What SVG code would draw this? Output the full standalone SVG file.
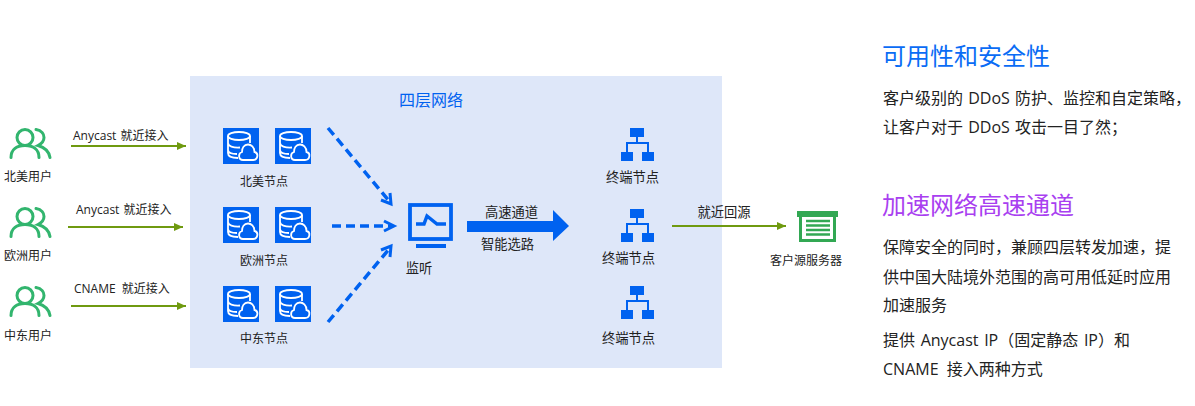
<svg xmlns="http://www.w3.org/2000/svg" width="1195" height="406" viewBox="0 0 1195 406">
<style>
text{font-family:"Open Sans","Noto Sans CJK SC",sans-serif;fill:#222}
.s{font-size:12px}
.m{font-size:13.300px}
.b{font-size:16px}
.h{font-size:24px}
.c{text-anchor:middle}
.g{stroke:#6f9a10;stroke-width:2;fill:none}
.d{stroke:#0062f0;stroke-width:3.500;stroke-dasharray:9 5;fill:none}
.o{stroke:#0062f0;stroke-width:3;fill:none}
</style>
<defs>
<marker id="ga" markerUnits="userSpaceOnUse" markerWidth="10" markerHeight="10" refX="9" refY="5" orient="auto"><path d="M0 1L9 5L0 9Z" fill="#6f9a10"/></marker>
<g id="user" fill="none" stroke="#32b56e" stroke-width="3" stroke-linecap="round">
<circle cx="16" cy="10" r="8"/>
<path d="M2 30C2 22 8 18 16 18S30 22 30 30"/>
<path d="M27 2C33 3 35 7 35 10S33 16 29 18C36 20 40 24 41 30"/>
</g>
<g id="db">
<rect width="36" height="36" fill="#0062f0"/>
<g fill="none" stroke="#fff" stroke-width="1.800">
<ellipse cx="16" cy="8" rx="11" ry="4"/>
<path d="M5 8V25C5 28 9 30 15 30M5 15C5 18 10 20 17 19.500M5 22C5 25 9 26 14 26M27 8V15"/>
<path d="M20 32H30C35 32 36 25 31.500 24C31.500 19 28 16.500 25 16.500C21 16.500 19 20 19 24C15 25 15 32 20 32Z" fill="#0062f0"/>
</g>
</g>
<g id="net" fill="#0062f0">
<rect x="9" y="0" width="14" height="9"/>
<rect x="0" y="24" width="12" height="9"/>
<rect x="21" y="24" width="12" height="9"/>
<path d="M15 9h2v5h11v10h-2v-8H7v8H5V14h10z"/>
</g>
</defs>
<rect id="panel" x="190" y="76" width="532" height="292" fill="#dee7f9"/>
<g id="connectors">
<path class="g" d="M71 146H186" marker-end="url(#ga)"/>
<path class="g" d="M68 227H183" marker-end="url(#ga)"/>
<path class="g" d="M71 306H186" marker-end="url(#ga)"/>
<path class="g" d="M672 226H786" marker-end="url(#ga)"/>
<path class="d" d="M328 128L390 202"/>
<path class="o" d="M381 200L391 204L390 193"/>
<path class="d" d="M332 226H393"/>
<path class="o" d="M384 221L394 226L384 231"/>
<path class="d" d="M328 322L390 248"/>
<path class="o" d="M381 250L391 246L390 257"/>
<path d="M467 221H553V210L569 226L553 241V232H467Z" fill="#0062f0"/>
</g>
<g id="user-na"><use href="#user" x="9" y="127.500"/><text class="s c" x="28" y="181">北美用户</text></g>
<g id="user-eu"><use href="#user" x="9" y="206.500"/><text class="s c" x="28" y="260">欧洲用户</text></g>
<g id="user-me"><use href="#user" x="9" y="285.500"/><text class="s c" x="28" y="340">中东用户</text></g>
<g id="label-1"><text class="s" x="73" y="140" word-spacing="1">Anycast 就近接入</text></g>
<g id="label-2"><text class="s" x="76" y="214" word-spacing="1">Anycast 就近接入</text></g>
<g id="label-3"><text class="s" x="74" y="293" word-spacing="3">CNAME 就近接入</text></g>
<text x="399" y="106" style="fill:#0062f0;font-size:16px">四层网络</text>
<g id="node-na"><use href="#db" x="223" y="128"/><use href="#db" x="275" y="128"/><text class="s c" x="264" y="186">北美节点</text></g>
<g id="node-eu"><use href="#db" x="223" y="207"/><use href="#db" x="275" y="207"/><text class="s c" x="264" y="265">欧洲节点</text></g>
<g id="node-me"><use href="#db" x="223" y="286"/><use href="#db" x="275" y="286"/><text class="s c" x="264" y="343">中东节点</text></g>
<g id="monitor">
<rect x="410" y="205" width="41" height="34" fill="none" stroke="#0062f0" stroke-width="3.800"/>
<path d="M416 224H424L427 216L437 224H446" fill="none" stroke="#0062f0" stroke-width="3.500"/>
<rect x="416" y="244" width="30" height="4" fill="#0062f0"/>
<text class="m c" x="419" y="273">监听</text>
</g>
<text class="m c" x="511.500" y="217">高速通道</text>
<text class="m c" x="507.500" y="249">智能选路</text>
<g id="edge-1"><use href="#net" x="621" y="128"/><text class="m c" x="632.500" y="182">终端节点</text></g>
<g id="edge-2"><use href="#net" x="621" y="209"/><text class="m c" x="628.500" y="263">终端节点</text></g>
<g id="edge-3"><use href="#net" x="621" y="286"/><text class="m c" x="628.500" y="343">终端节点</text></g>
<text class="m c" x="724" y="217">就近回源</text>
<g id="origin">
<rect x="797" y="211" width="41" height="6" fill="#32a853"/>
<path d="M799 217h3v22h31v-22h3v25h-37z" fill="#32a853"/>
<path d="M806 221h24M806 225.500h24M806 230h24M806 234.500h24" stroke="#32a853" stroke-width="2.500"/>
<text class="s c" x="806" y="265">客户源服务器</text>
</g>
<g id="copy">
<text class="h" x="882" y="65" style="fill:#0a6cf5">可用性和安全性</text>
<text class="b" x="883" y="104" word-spacing="1">客户级别的 DDoS 防护、监控和自定策略，</text>
<text class="b" x="883" y="133" word-spacing="1">让客户对于 DDoS 攻击一目了然；</text>
<text class="h" x="882" y="214" style="fill:#a93ff0">加速网络高速通道</text>
<text class="b" x="883" y="253">保障安全的同时，兼顾四层转发加速，提</text>
<text class="b" x="883" y="283">供中国大陆境外范围的高可用低延时应用</text>
<text class="b" x="883" y="311">加速服务</text>
<text class="b" x="883" y="346" word-spacing="1.500">提供 Anycast IP（固定静态 IP）和</text>
<text class="b" x="883" y="375" word-spacing="4">CNAME 接入两种方式</text>
</g>
</svg>
